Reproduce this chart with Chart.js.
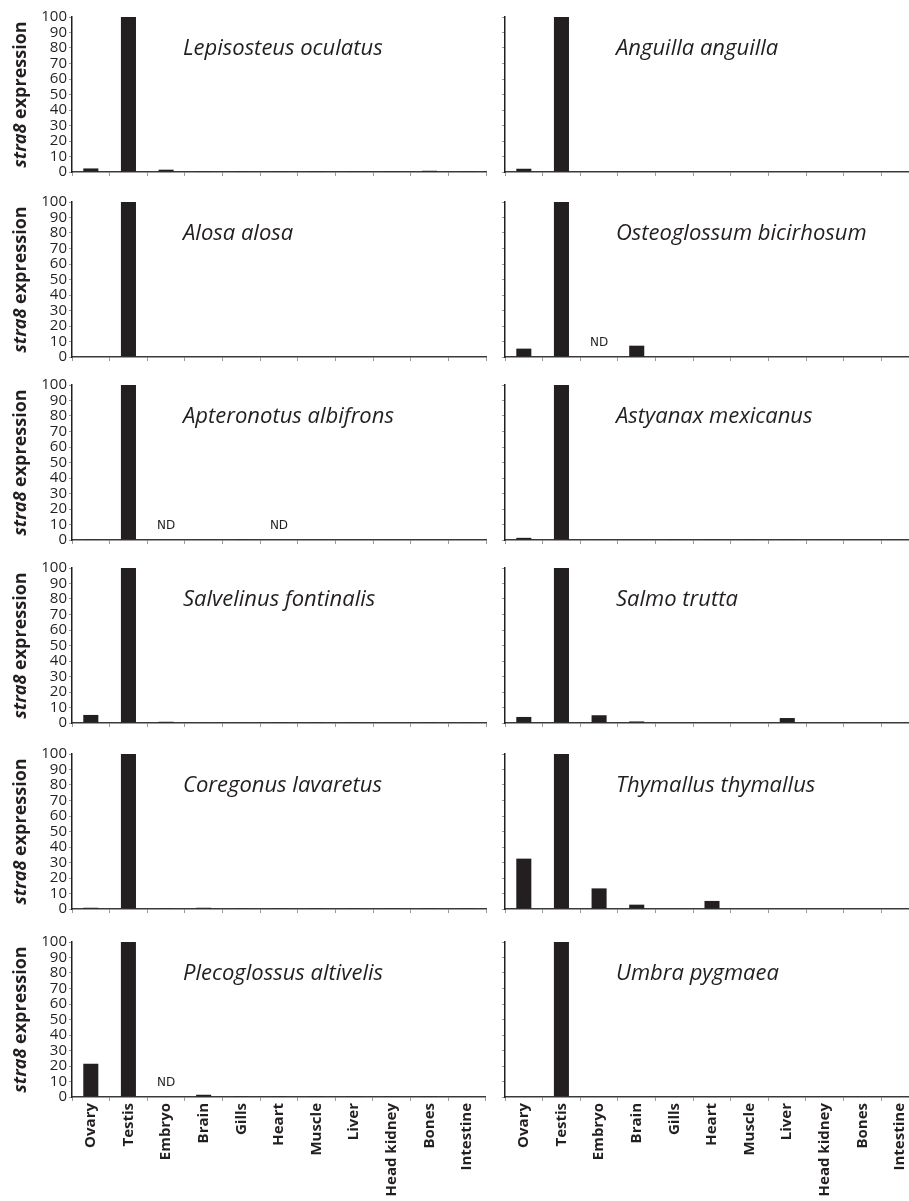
<!DOCTYPE html>
<html>
<head>
<meta charset="utf-8">
<script src="https://cdn.jsdelivr.net/npm/chart.js@4.4.0/dist/chart.umd.min.js"></script>
<style>
  html, body { margin: 0; padding: 0; background: #fff; overflow: hidden; }
  #wrap { position: relative; width: 909px; height: 1201px; overflow: hidden; }
  #wrap canvas { position: absolute; }
</style>
</head>
<body>
<div id="wrap"></div>
<script>
// ---- data ----
const tissues = ['Ovary', 'Testis', 'Embryo', 'Brain', 'Gills', 'Heart', 'Muscle', 'Liver', 'Head kidney', 'Bones', 'Intestine'];

// panels in reading order (left, right, left, right ...)
const species = [
    'Lepisosteus oculatus', 'Anguilla anguilla',
    'Alosa alosa', 'Osteoglossum bicirhosum',
    'Apteronotus albifrons', 'Astyanax mexicanus',
    'Salvelinus fontinalis', 'Salmo trutta',
    'Coregonus lavaretus', 'Thymallus thymallus',
    'Plecoglossus altivelis', 'Umbra pygmaea'
];

// null = ND (not detected)
const lepisosteus  = [2.3, 100, 1.5, 0.2, 0.2, 0.2, 0.2, 0.2, 0.2, 0.8, 0.2];
const anguilla     = [2.1, 100, 0, 0, 0, 0, 0, 0, 0, 0, 0];
const alosa        = [0, 100, 0, 0, 0, 0, 0, 0, 0, 0, 0];
const osteoglossum = [5.4, 100, null, 7.3, 0, 0, 0, 0, 0, 0, 0];
const apteronotus  = [0.2, 100, null, 0.3, 0.2, null, 0.3, 0.3, 0.3, 0.3, 0.3];
const astyanax     = [1.4, 100, 0.3, 0.3, 0.2, 0.2, 0.2, 0.2, 0.3, 0.3, 0.3];
const salvelinus   = [5.2, 100, 0.8, 0.3, 0.3, 0.2, 0.2, 0.2, 0.3, 0.2, 0.2];
const salmo        = [3.9, 100, 5.0, 1.0, 0, 0.3, 0, 3.2, 0.3, 0.3, 0];
const coregonus    = [0.8, 100, 0.2, 0.8, 0.2, 0.2, 0.2, 0.2, 0.2, 0.2, 0.2];
const thymallus    = [32.5, 100, 13.3, 2.8, 0, 5.2, 0, 0, 0, 0, 0];
const plecoglossus = [21.5, 100, null, 1.5, 0.2, 0.2, 0.2, 0.2, 0.2, 0.2, 0];
const umbra        = [0, 100, 0, 0, 0, 0, 0, 0, 0, 0, 0];

const panelValues = [lepisosteus, anguilla, alosa, osteoglossum, apteronotus, astyanax,
                     salvelinus, salmo, coregonus, thymallus, plecoglossus, umbra];

const yMax = 100;
const yStep = 10;

// ---- layout ----
const rowTops = [17, 202, 385, 568, 754, 942];   // pixel y of value 100 in each row
const PLOT_H = 155;
const PAD_TOP = 10;
const X_H = 12;          // x axis band for rows without labels
const INK = '#231f20';
const FONT = '"Open Sans", "Noto Sans", sans-serif';

const wrap = document.getElementById('wrap');

// species name inside the plot
const speciesLabel = {
    id: 'speciesLabel',
    afterDraw(chart, args, opts) {
        const { ctx, chartArea } = chart;
        ctx.save();
        ctx.font = 'italic 22px ' + FONT;
        ctx.fillStyle = INK;
        ctx.textBaseline = 'middle';
        ctx.textAlign = 'left';
        ctx.fillText(opts.text, chartArea.left + 111, chartArea.top + 32);
        ctx.restore();
    }
};

// "ND" above not-detected categories
const ndLabels = {
    id: 'ndLabels',
    afterDatasetsDraw(chart) {
        const { ctx } = chart;
        const xs = chart.scales.x, ys = chart.scales.y;
        ctx.save();
        ctx.font = '12px "DejaVu Sans", sans-serif';
        ctx.fillStyle = INK;
        ctx.textAlign = 'center';
        ctx.textBaseline = 'middle';
        chart.data.datasets[0].data.forEach((v, j) => {
            if (v === null) ctx.fillText('ND', xs.getPixelForValue(j), ys.getPixelForValue(10) + 1);
        });
        ctx.restore();
    }
};

// y title with italic gene name
const yTitle = {
    id: 'yTitle',
    afterDraw(chart, args, opts) {
        if (!opts.show) return;
        const { ctx, chartArea } = chart;
        const cy = (chartArea.top + chartArea.bottom) / 2;
        const f1 = 'italic bold 18px ' + FONT;
        const f2 = 'bold 18px ' + FONT;
        ctx.save();
        ctx.font = f1;
        const w1 = ctx.measureText('stra8').width;
        ctx.font = f2;
        const w2 = ctx.measureText(' expression').width;
        ctx.translate(21, cy);
        ctx.rotate(-Math.PI / 2);
        ctx.fillStyle = INK;
        ctx.textBaseline = 'middle';
        ctx.textAlign = 'left';
        const x0 = -(w1 + w2) / 2;
        ctx.font = f1;
        ctx.fillText('stra8', x0, 0);
        ctx.font = f2;
        ctx.fillText(' expression', x0 + w1, 0);
        ctx.restore();
    }
};

function makePanel(i) {
    const row = Math.floor(i / 2);
    const left = i % 2 === 0;
    const bottom = row === rowTops.length - 1;
    const top = rowTops[row] - PAD_TOP;
    const w = left ? 487 : 434;
    const h = bottom ? 1201 - top : PAD_TOP + PLOT_H + X_H;

    const canvas = document.createElement('canvas');
    canvas.width = w;
    canvas.height = h;
    canvas.style.left = (left ? 0 : 486) + 'px';
    canvas.style.top = top + 'px';
    canvas.style.width = w + 'px';
    canvas.style.height = h + 'px';
    wrap.appendChild(canvas);

    new Chart(canvas, {
        type: 'bar',
        data: {
            labels: tissues,
            datasets: [{
                data: panelValues[i],
                backgroundColor: INK,
                barPercentage: 0.4,
                categoryPercentage: 1
            }]
        },
        options: {
            responsive: false,
            animation: false,
            layout: { padding: { top: PAD_TOP, right: 1, left: 0, bottom: 0 } },
            plugins: {
                legend: { display: false },
                tooltip: { enabled: false },
                speciesLabel: { text: species[i] },
                yTitle: { show: left }
            },
            scales: {
                x: {
                    grid: { drawOnChartArea: false, tickLength: 4, color: '#9a9a9a', offset: true },
                    border: { display: true, color: '#3a3a3a', width: 1.5 },
                    ticks: {
                        display: bottom, autoSkip: false, maxRotation: 90, minRotation: 90, padding: 2,
                        color: INK, font: { family: FONT, size: 15, weight: 'bold' }
                    },
                    afterFit: s => { s.height = h - PAD_TOP - PLOT_H; }
                },
                y: {
                    min: 0, max: yMax,
                    grid: { drawOnChartArea: false, tickLength: 3, color: '#9a9a9a' },
                    border: { display: true, color: INK, width: 1.5 },
                    ticks: {
                        display: left, stepSize: yStep, autoSkip: false, padding: 2,
                        color: INK, font: { family: FONT, size: 15, lineHeight: 1 }
                    },
                    afterFit: s => { s.width = left ? 72 : 19; }
                }
            }
        },
        plugins: [speciesLabel, ndLabels, yTitle]
    });
}

species.forEach((_, i) => makePanel(i));
</script>
</body>
</html>
